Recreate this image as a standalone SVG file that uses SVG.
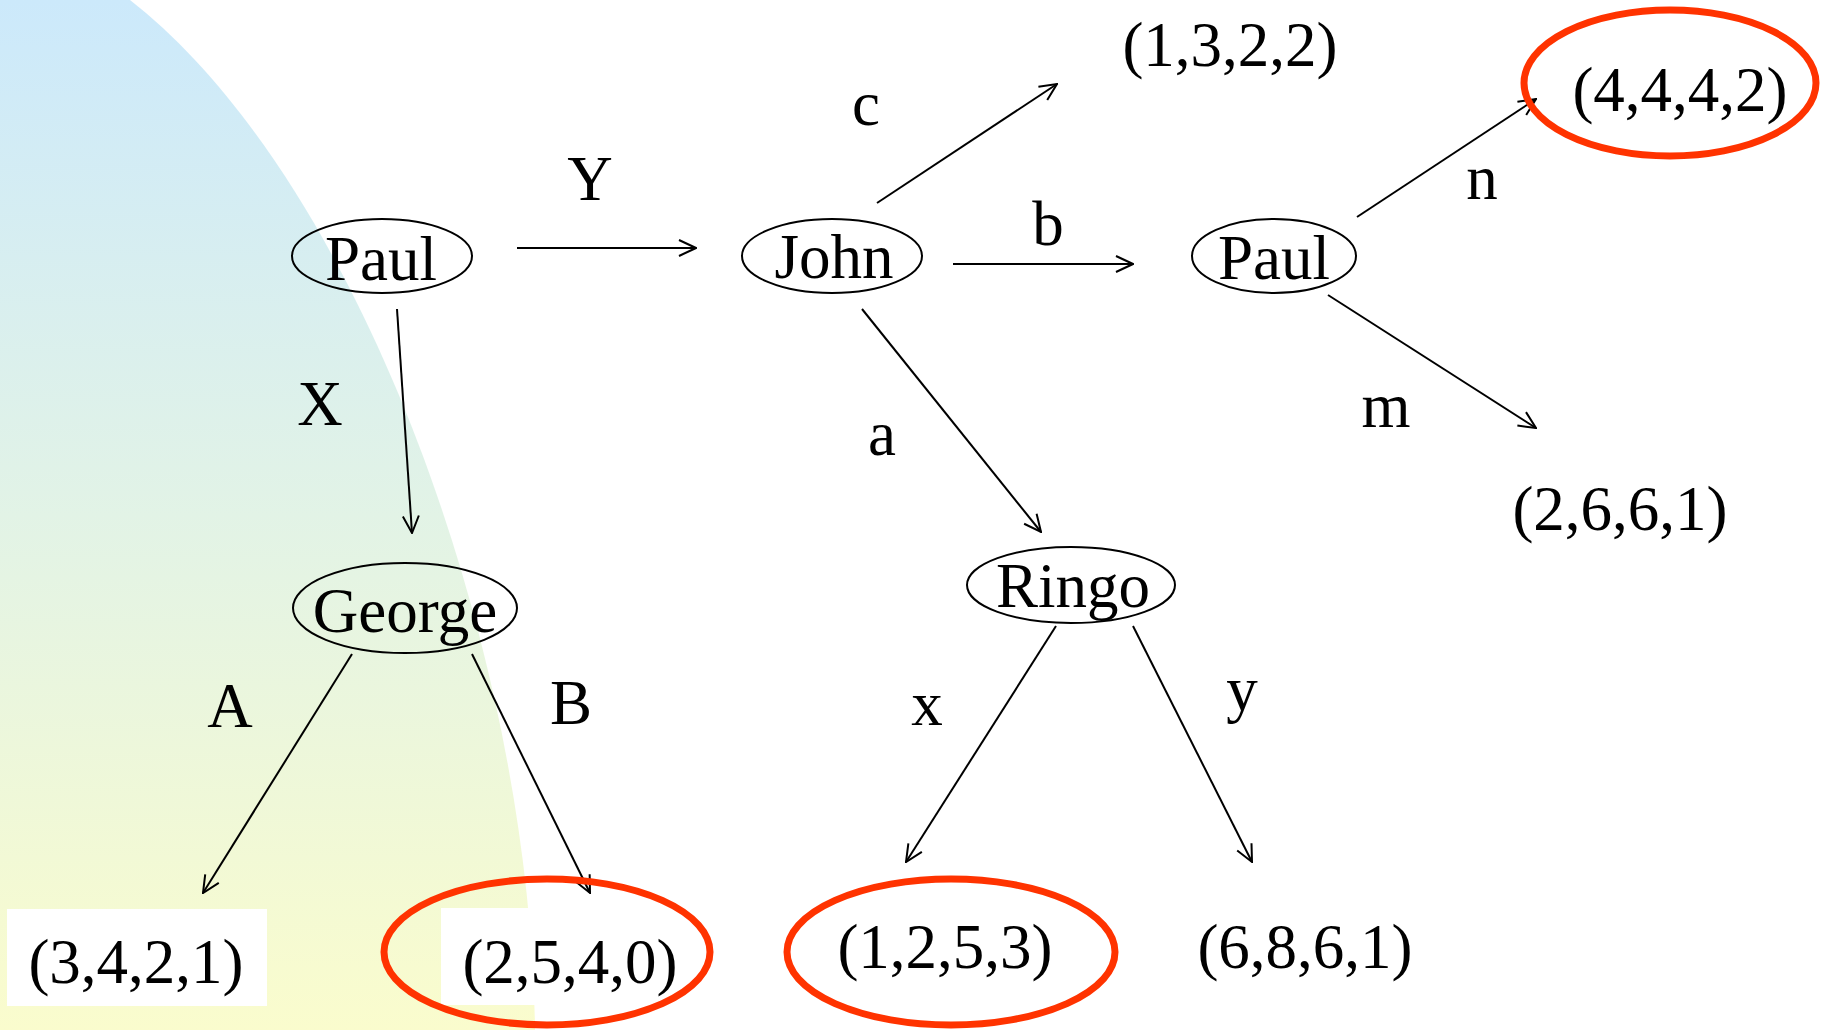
<svg xmlns="http://www.w3.org/2000/svg" width="1822" height="1030" viewBox="0 0 1822 1030">
<style>
text{font-family:"Liberation Serif","Times New Roman",serif;font-size:63px;fill:#000;text-anchor:middle}
.node{fill:none;stroke:#000;stroke-width:2}
.hl{fill:none;stroke:#ff3300;stroke-width:7}
.edge{fill:none;stroke:#000;stroke-width:2;marker-end:url(#arr)}
</style>
<defs>
<linearGradient id="bg" x1="0" y1="0" x2="0" y2="1">
<stop offset="0" stop-color="#cce9fb"/>
<stop offset="0.5" stop-color="#e2f3e6"/>
<stop offset="1" stop-color="#fafccd"/>
</linearGradient>
<marker id="arr" viewBox="0 0 20 20" refX="19" refY="10" markerWidth="20" markerHeight="20" markerUnits="userSpaceOnUse" orient="auto">
<path d="M2,2 L19,10 L2,18" fill="none" stroke="#000" stroke-width="2"/>
</marker>
</defs>
<rect width="1822" height="1030" fill="#fff"/>
<path d="M0,0 L130,0 C360,180 530,650 535,1030 L0,1030 Z" fill="url(#bg)"/>
<rect x="7" y="909" width="260" height="97" fill="#fff"/>
<rect x="441" y="908" width="220" height="97" fill="#fff"/>

<g id="connectors">
<line class="edge" x1="397" y1="309" x2="412" y2="533"/>
<line class="edge" x1="517" y1="248" x2="696" y2="248"/>
<line class="edge" x1="877" y1="203" x2="1057" y2="84"/>
<line class="edge" x1="953" y1="264" x2="1133" y2="264"/>
<line class="edge" x1="862" y1="309" x2="1041" y2="532"/>
<line class="edge" x1="1357" y1="217" x2="1536" y2="99"/>
<line class="edge" x1="1328" y1="295" x2="1536" y2="428"/>
<line class="edge" x1="352" y1="654" x2="203" y2="893"/>
<line class="edge" x1="472" y1="654" x2="590" y2="893"/>
<line class="edge" x1="1056" y1="626" x2="906" y2="862"/>
<line class="edge" x1="1133" y1="626" x2="1252" y2="862"/>
<text x="320" y="425">X</text>
<text x="590" y="200">Y</text>
<text x="866" y="125">c</text>
<text x="1048" y="245">b</text>
<text x="882" y="455">a</text>
<text x="1482" y="199">n</text>
<text x="1386" y="427">m</text>
<text x="230" y="727">A</text>
<text x="571" y="724">B</text>
<text x="927" y="725">x</text>
<text x="1242" y="710">y</text>
</g>

<g id="paul1"><ellipse class="node" cx="382" cy="256" rx="90" ry="37"/><text x="381" y="280">Paul</text></g>
<g id="john"><ellipse class="node" cx="832" cy="256" rx="90" ry="37"/><text x="834" y="278">John</text></g>
<g id="paul2"><ellipse class="node" cx="1274" cy="256" rx="82" ry="37"/><text x="1274" y="279">Paul</text></g>
<g id="george"><ellipse class="node" cx="405" cy="608" rx="112" ry="45"/><text x="405" y="632">George</text></g>
<g id="ringo"><ellipse class="node" cx="1071" cy="585" rx="104" ry="38"/><text x="1073" y="607">Ringo</text></g>

<g id="t1322"><text x="1230" y="66">(1,3,2,2)</text></g>
<g id="t4442"><ellipse class="hl" cx="1670" cy="83" rx="146" ry="73"/><text x="1680" y="111">(4,4,4,2)</text></g>
<g id="t2661"><text x="1620" y="530">(2,6,6,1)</text></g>
<g id="t3421"><text x="136" y="983">(3,4,2,1)</text></g>
<g id="t2540"><ellipse class="hl" cx="547" cy="952" rx="163" ry="73"/><text x="570" y="983">(2,5,4,0)</text></g>
<g id="t1253"><ellipse class="hl" cx="951" cy="952" rx="164" ry="73"/><text x="945" y="968">(1,2,5,3)</text></g>
<g id="t6861"><text x="1305" y="968">(6,8,6,1)</text></g>
</svg>
